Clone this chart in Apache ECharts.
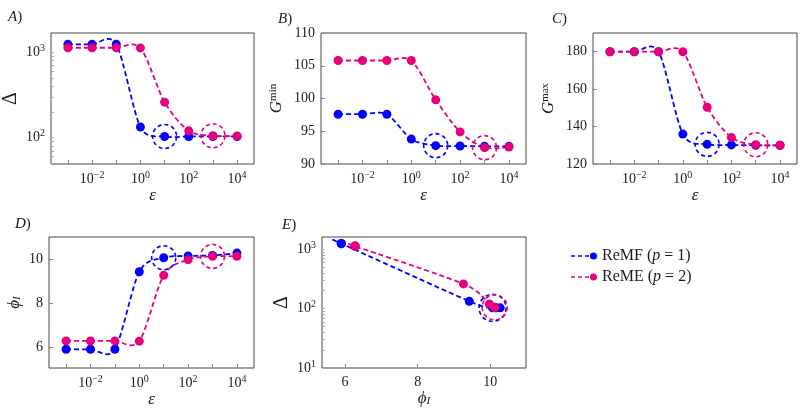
<!DOCTYPE html>
<html>
<head>
<meta charset="utf-8">
<script src="https://cdn.jsdelivr.net/npm/echarts@6/dist/echarts.min.js"></script>
<style>
  html, body { margin: 0; padding: 0; background: #fff; }
  #main { width: 800px; height: 409px; }
</style>
</head>
<body>
<div id="main"></div>
<script>
// values
var epsExp = [-3, -2, -1, 0, 1, 2, 3, 4];            // epsilon = 10^k
var deltaF = [1240, 1240, 1245, 133, 103, 103, 103, 103];
var deltaE = [1130, 1130, 1130, 1125, 260, 120, 105, 104];
var gminF = [97.6, 97.6, 97.6, 93.8, 92.8, 92.75, 92.7, 92.7];
var gminE = [105.8, 105.8, 105.8, 105.8, 99.8, 94.9, 92.5, 92.6];
var gmaxF = [180, 180, 180, 136, 130.5, 130.2, 130, 130];
var gmaxE = [180, 180, 180, 180, 150.3, 134.2, 130.3, 130];
var phiF = [5.9, 5.9, 5.9, 9.42, 10.06, 10.14, 10.16, 10.27];
var phiE = [6.28, 6.28, 6.28, 6.27, 9.26, 9.97, 10.12, 10.12];
var pickF = 4;   // circled point of ReMF (eps = 10^1)
var pickE = 6;   // circled point of ReME (eps = 10^3)

// tick labels
var epsTicks = [-2, 0, 2, 4];
var deltaTicks = [2, 3];
var deltaTicksE = [1, 2, 3];
var gminTicks = [90, 95, 100, 105, 110];
var gmaxTicks = [120, 140, 160, 180];
var phiTicks = [6, 8, 10];

var BLUE = '#0000ff', PINK = '#e6007e';
var FONT = 'Liberation Serif';
var INK = '#1a1a1a';
var TENSION = 0.145;   // like a tikz "smooth" plot

var myChart = echarts.init(document.getElementById('main'));

function lg(v) { return Math.log10(v); }

function pow10Label(v) {
  return '{b|10}{s|' + String(v).replace('-', '\u2212') + '}';
}
var powRich = {
  b: { fontFamily: FONT, fontSize: 14, color: INK, lineHeight: 18 },
  s: { fontFamily: FONT, fontSize: 10, color: INK, lineHeight: 11, verticalAlign: 'top' }
};

// minor ticks of a log axis (in log10 units)
function logMinor(lo, hi) {
  var out = [];
  for (var n = Math.floor(lo); n <= Math.ceil(hi); n++) {
    for (var k = 1; k <= 9; k++) {
      var v = n + Math.log10(k);
      if (v >= lo && v <= hi) out.push(v);
    }
  }
  return out;
}

var nameStyle = {
  fontFamily: FONT, fontSize: 17, color: INK,
  rich: {
    g: { fontFamily: FONT, fontSize: 17, fontStyle: 'italic', color: INK },
    s: { fontFamily: FONT, fontSize: 11, color: INK, verticalAlign: 'top', lineHeight: 10 },
    sub: { fontFamily: FONT, fontSize: 11, fontStyle: 'italic', color: INK, verticalAlign: 'bottom', lineHeight: 10 },
    d: { fontFamily: FONT, fontSize: 20, color: INK }
  }
};

function epsAxis(gi) {
  return {
    type: 'value', gridIndex: gi, min: -3.7, max: 4.7,
    name: '{g|\u03b5}', nameLocation: 'middle', nameGap: 20,
    nameTextStyle: nameStyle,
    axisLine: { show: false, onZero: false },
    axisTick: { show: true, inside: true, length: 4, customValues: epsExp, lineStyle: { color: '#888' } },
    axisLabel: { customValues: epsTicks, formatter: pow10Label, rich: powRich, margin: 6 },
    splitLine: { show: false }
  };
}

function linAxis(gi, min, max, ticks, name, gap, horizontal) {
  return {
    type: 'value', gridIndex: gi, min: min, max: max,
    name: name, nameLocation: 'middle', nameGap: gap,
    nameTextStyle: nameStyle,
    axisLine: { show: false, onZero: false },
    axisTick: { show: true, inside: true, length: 4, customValues: ticks, lineStyle: { color: '#888' } },
    axisLabel: { customValues: ticks, margin: horizontal ? 7 : 6, fontFamily: FONT, fontSize: 14, color: INK },
    splitLine: { show: false }
  };
}

function logAxis(gi, min, max, ticks, name, gap) {
  return {
    type: 'value', gridIndex: gi, min: min, max: max,
    name: name, nameLocation: 'middle', nameGap: gap,
    nameTextStyle: nameStyle,
    axisLine: { show: false, onZero: false },
    axisTick: { show: true, inside: true, length: 3, customValues: logMinor(min, max), lineStyle: { color: '#aaa' } },
    axisLabel: { customValues: ticks, formatter: pow10Label, rich: powRich, margin: 6 },
    splitLine: { show: false }
  };
}

function pairs(xs, ys, fx, fy) {
  return xs.map(function (x, i) { return [fx ? fx(x) : x, fy ? fy(ys[i]) : ys[i]]; });
}

// smooth path through pixel points (cubic, tangent = next - prev)
function smoothPath(pts, t) {
  var d = 'M' + pts[0][0] + ',' + pts[0][1];
  for (var i = 0; i < pts.length - 1; i++) {
    var p0 = pts[i - 1] || pts[i], p1 = pts[i], p2 = pts[i + 1], p3 = pts[i + 2] || pts[i + 1];
    var c1 = i === 0 ? p1 : [p1[0] + t * (p2[0] - p0[0]), p1[1] + t * (p2[1] - p0[1])];
    var c2 = i === pts.length - 2 ? p2 : [p2[0] - t * (p3[0] - p1[0]), p2[1] - t * (p3[1] - p1[1])];
    d += 'C' + c1[0] + ',' + c1[1] + ',' + c2[0] + ',' + c2[1] + ',' + p2[0] + ',' + p2[1];
  }
  return d;
}

function curveSeries(color, gi, data) {
  return {
    type: 'custom', xAxisIndex: gi, yAxisIndex: gi, data: data,
    silent: true, animation: false, z: 2,
    renderItem: function (params, api) {
      if (params.dataIndexInside !== 0) return null;
      var pts = [];
      for (var i = 0; i < params.dataInsideLength; i++) {
        pts.push(api.coord([api.value(0, i), api.value(1, i)]));
      }
      return {
        type: 'path',
        shape: { pathData: smoothPath(pts, TENSION) },
        style: { stroke: color, fill: 'none', lineWidth: 1.8, lineDash: [5, 3] }
      };
    }
  };
}

function dotSeries(name, color, gi, data) {
  return {
    name: name, type: 'scatter', xAxisIndex: gi, yAxisIndex: gi,
    data: data, symbol: 'circle', symbolSize: 9,
    itemStyle: { color: color, opacity: 1 },
    animation: false, z: 2
  };
}

function ringSeries(color, gi, point, size) {
  return {
    name: 'sel', type: 'scatter', xAxisIndex: gi, yAxisIndex: gi,
    data: [point], symbol: 'circle', symbolSize: size,
    itemStyle: { color: 'rgba(0,0,0,0)', borderColor: color, borderWidth: 1.6, borderType: [4, 3], opacity: 1 },
    silent: true, animation: false, z: 2
  };
}

// panels: A delta, B gmin, C gmax, D phi (all vs eps), E delta vs phi
var panels = [
  { f: pairs(epsExp, deltaF, null, lg), e: pairs(epsExp, deltaE, null, lg) },
  { f: pairs(epsExp, gminF), e: pairs(epsExp, gminE) },
  { f: pairs(epsExp, gmaxF), e: pairs(epsExp, gmaxE) },
  { f: pairs(epsExp, phiF), e: pairs(epsExp, phiE) },
  { f: pairs(phiF, deltaF, null, lg), e: pairs(phiE, deltaE, null, lg), big: true }
];

var series = [];
panels.forEach(function (p, gi) {
  series.push(curveSeries(BLUE, gi, p.f));
  series.push(ringSeries(BLUE, gi, p.f[pickF], p.big ? 27 : 24));
  series.push(dotSeries('ReMF', BLUE, gi, p.f));
  series.push(curveSeries(PINK, gi, p.e));
  series.push(ringSeries(PINK, gi, p.e[pickE], p.big ? 25 : 24));
  series.push(dotSeries('ReME', PINK, gi, p.e));
});

var gridBase = { show: true, borderColor: '#444', borderWidth: 1, backgroundColor: 'transparent' };
function grid(l, t, w, h) {
  return Object.assign({ left: l, top: t, width: w, height: h }, gridBase);
}

var titleStyle = {
  fontFamily: FONT, fontSize: 15, fontWeight: 'normal', color: INK,
  rich: { i: { fontFamily: FONT, fontSize: 15, fontStyle: 'italic', color: INK } }
};
function panelTitle(letter, l, t) {
  return { text: '{i|' + letter + '})', left: l, top: t, padding: 0, textStyle: titleStyle };
}

var legendIcon = 'path://M0,3.3h4v1.4h-4z M7,3.3h4v1.4h-4z M14,3.3h4v1.4h-4z M19,4a3.5,3.5 0 1,0 7,0a3.5,3.5 0 1,0 -7,0z';

var option = {
  backgroundColor: '#fff',
  animation: false,
  title: [
    panelTitle('A', 8, 10),
    panelTitle('B', 278, 12),
    panelTitle('C', 552, 12),
    panelTitle('D', 15, 217),
    panelTitle('E', 282, 218)
  ],
  legend: {
    orient: 'vertical', left: 566, top: 243,
    itemWidth: 26, itemHeight: 8, itemGap: 5,
    selectedMode: false,
    data: [{ name: 'ReMF', icon: legendIcon }, { name: 'ReME', icon: legendIcon }],
    formatter: function (n) { return n === 'ReMF' ? 'ReMF ({i|p} = 1)' : 'ReME ({i|p} = 2)'; },
    textStyle: {
      fontFamily: FONT, fontSize: 16, color: INK, lineHeight: 16,
      rich: { i: { fontFamily: FONT, fontSize: 16, fontStyle: 'italic', color: INK } }
    }
  },
  grid: [
    grid(49, 33, 205, 131),
    grid(321, 33, 205, 131),
    grid(593, 33, 204, 131),
    grid(49, 237, 205, 131),
    grid(322, 237, 204, 131)
  ],
  xAxis: [
    epsAxis(0), epsAxis(1), epsAxis(2), epsAxis(3),
    linAxis(4, 5.37, 10.98, phiTicks, '{g|\u03d5}{sub|I}', 20, true)
  ],
  yAxis: [
    logAxis(0, 1.69, 3.226, deltaTicks, '{d|\u0394}', 30),
    linAxis(1, 90, 110, gminTicks, '{g|G}{s|min}', 36),
    linAxis(2, 120, 190, gmaxTicks, '{g|G}{s|max}', 36),
    linAxis(3, 5.05, 11, phiTicks, '{g|\u03d5}{sub|I}', 26),
    logAxis(4, 1.0, 3.205, deltaTicksE, '{d|\u0394}', 30)
  ],
  series: series
};

myChart.setOption(option);
window.addEventListener('resize', function () {
  myChart.resize();
});
</script>
</body>
</html>
